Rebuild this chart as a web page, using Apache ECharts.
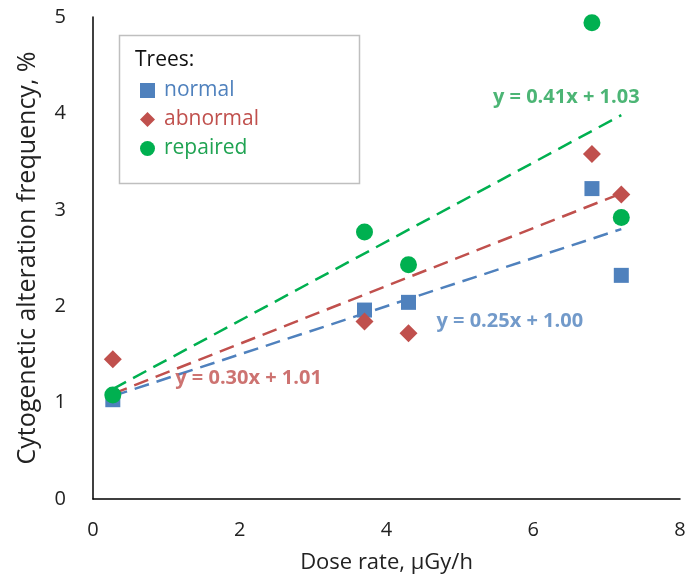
<!DOCTYPE html>
<html>
<head>
<meta charset="utf-8">
<script src="https://cdn.jsdelivr.net/npm/echarts@6/dist/echarts.min.js"></script>
<style>
  html, body { margin: 0; padding: 0; background: #fff; }
  #chart { width: 689px; height: 584px; }
</style>
</head>
<body>
<div id="chart"></div>
<script>
// dose rate for each sampling site
var doseRate = [0.27, 3.7, 4.3, 6.8, 7.2];
// cytogenetic alteration frequency, %
var normalVals = [1.03, 1.96, 2.04, 3.22, 2.32];
var abnormalVals = [1.45, 1.84, 1.72, 3.58, 3.16];
var repairedVals = [1.08, 2.77, 2.43, 4.94, 2.92];
// linear trend lines (slope, intercept) as printed on the chart
var slopes = [0.25, 0.30, 0.41];
var intercepts = [1.00, 1.01, 1.03];
var seriesNames = ['normal', 'abnormal', 'repaired'];
var xTicks = [0, 2, 4, 6, 8];
var yTicks = [0, 1, 2, 3, 4, 5];

var colors = ['#4f81bd', '#c0504d', '#00b050'];
var textColors = ['#4f81bd', '#c0504d', '#1fa352'];
var symbols = ['rect', 'diamond', 'circle'];
var symbolSizes = [15, 18, 17];
var allVals = [normalVals, abnormalVals, repairedVals];
// where the equation labels sit (data coords)
var eqPos = [[5.68, 1.84], [2.12, 1.25], [6.45, 4.17]];

var font = '"Open Sans", "Noto Sans", sans-serif';
var chart = echarts.init(document.getElementById('chart'));

var series = [];
var xMin = Math.min.apply(null, doseRate);
var xMax = Math.max.apply(null, doseRate);

for (var i = 0; i < 3; i++) {
  // trend line
  series.push({
    type: 'line',
    silent: true,
    symbol: 'none',
    z: 1,
    lineStyle: { color: colors[i], width: 2.5, type: [15, 8] },
    data: [
      [xMin, slopes[i] * xMin + intercepts[i]],
      [xMax, slopes[i] * xMax + intercepts[i]]
    ]
  });
}
for (var i = 0; i < 3; i++) {
  series.push({
    name: seriesNames[i],
    type: 'scatter',
    symbol: symbols[i],
    symbolSize: symbolSizes[i],
    z: 3,
    itemStyle: { color: colors[i], opacity: 1 },
    data: doseRate.map(function (x, k) { return [x, allVals[i][k]]; })
  });
}
for (var i = 0; i < 3; i++) {
  series.push({
    type: 'scatter',
    silent: true,
    symbolSize: 0,
    z: 4,
    label: {
      show: true,
      position: 'inside',
      color: textColors[i],
      fontFamily: font,
      fontWeight: 'bold',
      fontSize: 20,
      formatter: 'y = ' + slopes[i].toFixed(2) + 'x + ' + intercepts[i].toFixed(2)
    },
    data: [eqPos[i]]
  });
}

chart.setOption({
  animation: false,
  backgroundColor: '#fff',
  grid: { left: 93, right: 9, top: 17, bottom: 85 },
  xAxis: {
    type: 'value',
    min: xTicks[0],
    max: xTicks[xTicks.length - 1],
    interval: 2,
    name: 'Dose rate, µGy/h',
    nameLocation: 'middle',
    nameGap: 53,
    nameTextStyle: { color: '#222', fontSize: 22, fontFamily: font },
    axisLine: { lineStyle: { color: '#000', width: 1.5 } },
    axisTick: { show: false },
    splitLine: { show: false },
    axisLabel: { color: '#222', fontSize: 20, fontFamily: font, margin: 21 }
  },
  yAxis: {
    type: 'value',
    min: yTicks[0],
    max: yTicks[yTicks.length - 1],
    interval: 1,
    name: 'Cytogenetic alteration frequency, %',
    nameLocation: 'middle',
    nameGap: 53,
    nameTextStyle: { color: '#222', fontSize: 25, fontFamily: font },
    axisLine: { show: true, lineStyle: { color: '#000', width: 1.5 } },
    axisTick: { show: false },
    splitLine: { show: false },
    axisLabel: { color: '#222', fontSize: 20, fontFamily: font, margin: 27 }
  },
  legend: {
    orient: 'vertical',
    left: 135,
    top: 75,
    itemGap: 8,
    itemWidth: 15,
    itemHeight: 15,
    textStyle: { fontSize: 21, lineHeight: 21, fontFamily: font, padding: [0, 0, 0, 4] },
    data: seriesNames.map(function (n, i) {
      return { name: n, textStyle: { color: textColors[i] } };
    })
  },
  graphic: [
    {
      type: 'rect',
      shape: { x: 119.5, y: 35.5, width: 240, height: 148 },
      style: { fill: 'none', stroke: '#bfbfbf', lineWidth: 1.5 },
      z: 0
    },
    {
      type: 'text',
      x: 135,
      y: 60,
      style: { text: 'Trees:', fill: '#111', fontSize: 21, fontFamily: font, verticalAlign: 'middle' }
    }
  ],
  series: series
});
</script>
</body>
</html>
